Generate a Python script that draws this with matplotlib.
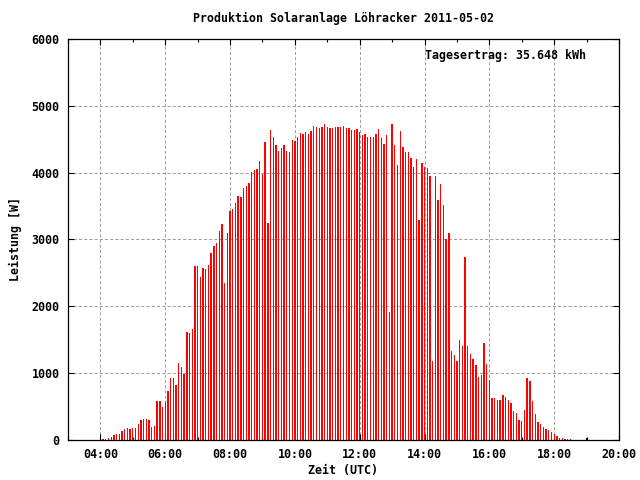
import numpy as np
import matplotlib
matplotlib.use("Agg")
import matplotlib.pyplot as plt
from matplotlib.ticker import MultipleLocator

# Time axis: hours (UTC); samples every 5 minutes from 04:05 to 18:30
start_hour = 4 + 5 / 60
step_hours = 5 / 60

# Power values [W]
power_0405_0625 = [15, 15, 30, 45, 70, 90, 90, 135, 160, 175, 160, 175, 175, 235, 295,
                   310, 310, 295, 190, 205, 580, 580, 490, 565, 730, 925, 925, 820, 1150]
power_0630_0845 = [1090, 990, 1613, 1598, 1658, 2600, 2600, 2435, 2570, 2555, 2615, 2794,
                   2898, 2943, 3122, 3227, 2346, 3093, 3421, 3451, 3541, 3645, 3630, 3765,
                   3795, 3840, 4004, 4034]
power_0850_1105 = [4057, 4177, 3982, 4461, 3248, 4641, 4536, 4416, 4326, 4371, 4416, 4326,
                   4311, 4491, 4476, 4536, 4596, 4581, 4611, 4581, 4626, 4701, 4686, 4671,
                   4686, 4731, 4686, 4671]
power_1110_1325 = [4671, 4686, 4686, 4686, 4701, 4671, 4671, 4641, 4641, 4656, 4611, 4566,
                   4581, 4536, 4536, 4536, 4581, 4656, 4521, 4431, 4566, 1916, 4731, 4416,
                   4117, 4626, 4386, 4311]
power_1330_1540 = [4311, 4221, 4087, 4206, 3293, 4147, 4087, 4072, 3952, 1183, 3952, 3593,
                   3832, 3518, 3009, 3099, 1332, 1272, 1183, 1497, 1407, 2740, 1407, 1287,
                   1212, 1123, 943]
power_1545_1830 = [973, 1452, 1138, 898, 629, 629, 599, 599, 674, 644, 599, 554, 434, 404,
                   299, 284, 449, 928, 883, 584, 389, 269, 240, 195, 165, 150, 120, 90, 60,
                   30, 30, 15, 15, 15]

# Small black markers
marker_hours = [4.0, 19.0]
marker_values = [60, 35]

x_ticks = [4, 6, 8, 10, 12, 14, 16, 18, 20]
x_ticklabels = ["04:00", "06:00", "08:00", "10:00", "12:00", "14:00", "16:00", "18:00", "20:00"]
y_ticks = [0, 1000, 2000, 3000, 4000, 5000, 6000]

title = "Produktion Solaranlage Löhracker 2011-05-02"
annotation = "Tagesertrag: 35.648 kWh"

power = np.array(power_0405_0625 + power_0630_0845 + power_0850_1105 +
                 power_1110_1325 + power_1330_1540 + power_1545_1830)
hours = start_hour + step_hours * np.arange(len(power))

font = {"family": "DejaVu Sans Mono", "weight": "bold", "size": 8.4}

fig = plt.figure(figsize=(6.4, 4.8), dpi=100)
ax = fig.add_axes([68 / 640, 1 - 440 / 480, 551 / 640, 401 / 480])

px_h = 17 / 551  # hours per pixel
ax.bar(hours, power, width=1.35 * px_h, color="#ff0000", linewidth=0, zorder=3)
ax.bar(marker_hours, marker_values, width=1.2 * px_h, color="#000000", linewidth=0, zorder=3)

ax.set_xlim(3, 20)
ax.set_ylim(0, 6000)
ax.set_xticks(x_ticks)
ax.set_xticklabels(x_ticklabels, fontdict=font)
ax.xaxis.set_minor_locator(MultipleLocator(1))
ax.set_yticks(y_ticks)
ax.set_yticklabels([str(v) for v in y_ticks], fontdict=font)

ax.tick_params(which="major", direction="in", length=4, width=0.8, top=True, right=True,
               pad=6, colors="black")
ax.tick_params(which="minor", direction="in", length=2, width=0.8, top=True, right=True)
ax.tick_params(axis="x", which="major", pad=6)

ax.grid(True, which="major", color="#a0a0a0", linestyle=(0, (3, 2)), linewidth=0.75, zorder=1)
for s in ax.spines.values():
    s.set_linewidth(0.9)
    s.set_zorder(4)

ax.set_xlabel("Zeit (UTC)", fontdict=font, labelpad=2)
ax.set_ylabel("Leistung [W]", fontdict=font, labelpad=7)

fig.text(343.5 / 640, 1 - 18 / 480, title, ha="center", va="center", **font)
ax.text((425 - 68) / 551, (440 - 56) / 401, annotation, transform=ax.transAxes,
        ha="left", va="center", **font)

fig.savefig("out.png", dpi=100)
